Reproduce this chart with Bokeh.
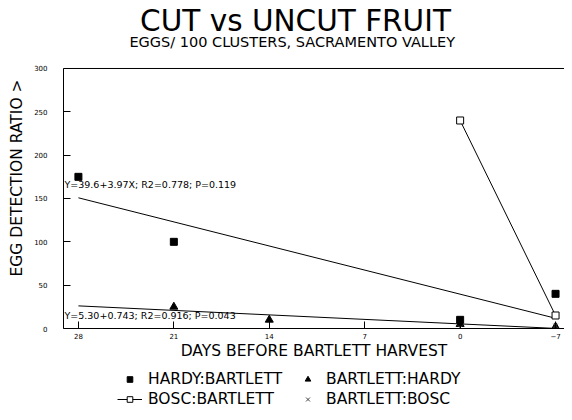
import math
from bokeh.plotting import figure
from bokeh.layouts import column
from bokeh.models import Range1d, FixedTicker, Label, Span, Legend, LegendItem, Title
from bokeh.embed import file_html
from bokeh.resources import INLINE

# ---- data ----
days_hardy_bartlett = [28, 21, 0, -7]
hardy_bartlett = [175, 100, 10, 40]
days_bartlett_hardy = [21, 14, 0, -7]
bartlett_hardy = [25, 10, 5, 2]
days_bosc_bartlett = [0, -7]
bosc_bartlett = [240, 15]
days_bartlett_bosc = [0, -7]
bartlett_bosc = [1, 3]
fit_days = [28, -7]
fit1_values = [150.8, 11.8]
fit2_values = [26.1, 0.1]
fit1_text = "Y=39.6+3.97X; R2=0.778; P=0.119"
fit2_text = "Y=5.30+0.743; R2=0.916; P=0.043"
x_ticks = [28, 21, 14, 7, 0, -7]
y_ticks = [0, 50, 100, 150, 200, 250, 300]
series_names = ["HARDY:BARTLETT", "BARTLETT:HARDY", "BOSC:BARTLETT", "BARTLETT:BOSC"]

FONT = "DejaVu Sans"

# frame spans from the top of the page down to the x axis; y axis line bounded to 0..300
p = figure(width=564, height=362, output_backend="svg", toolbar_location=None, title=None,
           x_range=Range1d(29.094, -7.656), y_range=Range1d(0, 378.46),
           min_border_left=60, min_border_right=0, min_border_top=0,
           min_border_bottom=34)
p.xgrid.visible = False
p.ygrid.visible = False
p.outline_line_color = None
p.background_fill_color = "white"

p.xaxis.ticker = FixedTicker(ticks=x_ticks)
p.yaxis.ticker = FixedTicker(ticks=y_ticks)
p.yaxis.bounds = (0, 300)
for ax in (p.xaxis[0], p.yaxis[0]):
    ax.major_tick_in = 7
    ax.major_tick_out = 0
    ax.minor_tick_line_color = None
    ax.axis_line_color = "black"
    ax.major_tick_line_color = "black"
    ax.major_label_text_font = FONT
    ax.major_label_text_font_size = "7px"
    ax.major_label_text_color = "black"
p.yaxis.major_label_standoff = 16
p.xaxis.major_label_standoff = 4
p.xaxis.axis_label = "DAYS BEFORE BARTLETT HARVEST"
p.xaxis.axis_label_text_font = FONT
p.xaxis.axis_label_text_font_size = "15.5px"
p.xaxis.axis_label_text_font_style = "normal"
p.xaxis.axis_label_text_color = "black"
p.xaxis.axis_label_standoff = 0

p.add_layout(Span(location=300, dimension="width", line_color="black", line_width=1))

def draw_series(fig):
    rs = {}
    rs["fit1"] = fig.line(fit_days, fit1_values, line_color="black", line_width=1)
    rs["fit2"] = fig.line(fit_days, fit2_values, line_color="black", line_width=1)
    rs["bb_line"] = fig.line(days_bosc_bartlett, bosc_bartlett, line_color="black", line_width=1)
    rs["hb"] = fig.scatter(days_hardy_bartlett, hardy_bartlett, marker="square", size=7,
                           fill_color="black", line_color="black")
    rs["bh"] = fig.scatter(days_bartlett_hardy, bartlett_hardy, marker="triangle", size=8,
                           fill_color="black", line_color="black")
    rs["bb"] = fig.scatter(days_bosc_bartlett, bosc_bartlett, marker="square", size=7,
                           fill_color="white", line_color="black")
    rs["bbo"] = fig.scatter(days_bartlett_bosc, bartlett_bosc, marker="x", size=6,
                            line_color="#444444")
    return rs

draw_series(p)

p.add_layout(Title(text="EGG DETECTION RATIO >", align="right", offset=79,
                   text_font=FONT, text_font_size="15.5px", text_font_style="normal",
                   text_color="black", standoff=11), "left")

def label(text, x, y, size, align="left"):
    p.add_layout(Label(x=x, y=y, x_units="screen", y_units="screen", text=text,
                       text_font=FONT, text_font_size=size, text_color="black",
                       text_align=align, text_baseline="alphabetic"))

label("CUT vs UNCUT FRUIT", 232, 308, "29.5px", align="center")
label("EGGS/ 100 CLUSTERS,  SACRAMENTO VALLEY", 231, 287, "14.5px", align="center")
label(fit1_text, 1, 144, "9.5px")
label(fit2_text, 1, 13, "9.5px")

# ---- legend strip (series drawn off-range, only the legend shows) ----
q = figure(width=564, height=50, output_backend="svg", toolbar_location=None, title=None,
           x_axis_type=None, y_axis_type=None, x_range=Range1d(1000, 1001),
           y_range=Range1d(1000, 1001), min_border=0)
q.xgrid.visible = False
q.ygrid.visible = False
q.outline_line_color = None
lr = draw_series(q)

lg = Legend(items=[LegendItem(label=series_names[0], renderers=[lr["hb"]]),
                   LegendItem(label=series_names[2], renderers=[lr["bb_line"], lr["bb"]]),
                   LegendItem(label=series_names[1], renderers=[lr["bh"]]),
                   LegendItem(label=series_names[3], renderers=[lr["bbo"]])],
            orientation="vertical", ncols=2, location=(54, 4),
            glyph_width=25, glyph_height=14, label_height=18, label_width=145,
            label_standoff=6, spacing=2, padding=0, margin=0,
            border_line_color=None, background_fill_alpha=0,
            label_text_font=FONT, label_text_font_size="15.5px",
            label_text_color="black")
q.add_layout(lg)

layout = column(p, q, spacing=0)
open("out.html", "w").write(file_html(layout, INLINE))
